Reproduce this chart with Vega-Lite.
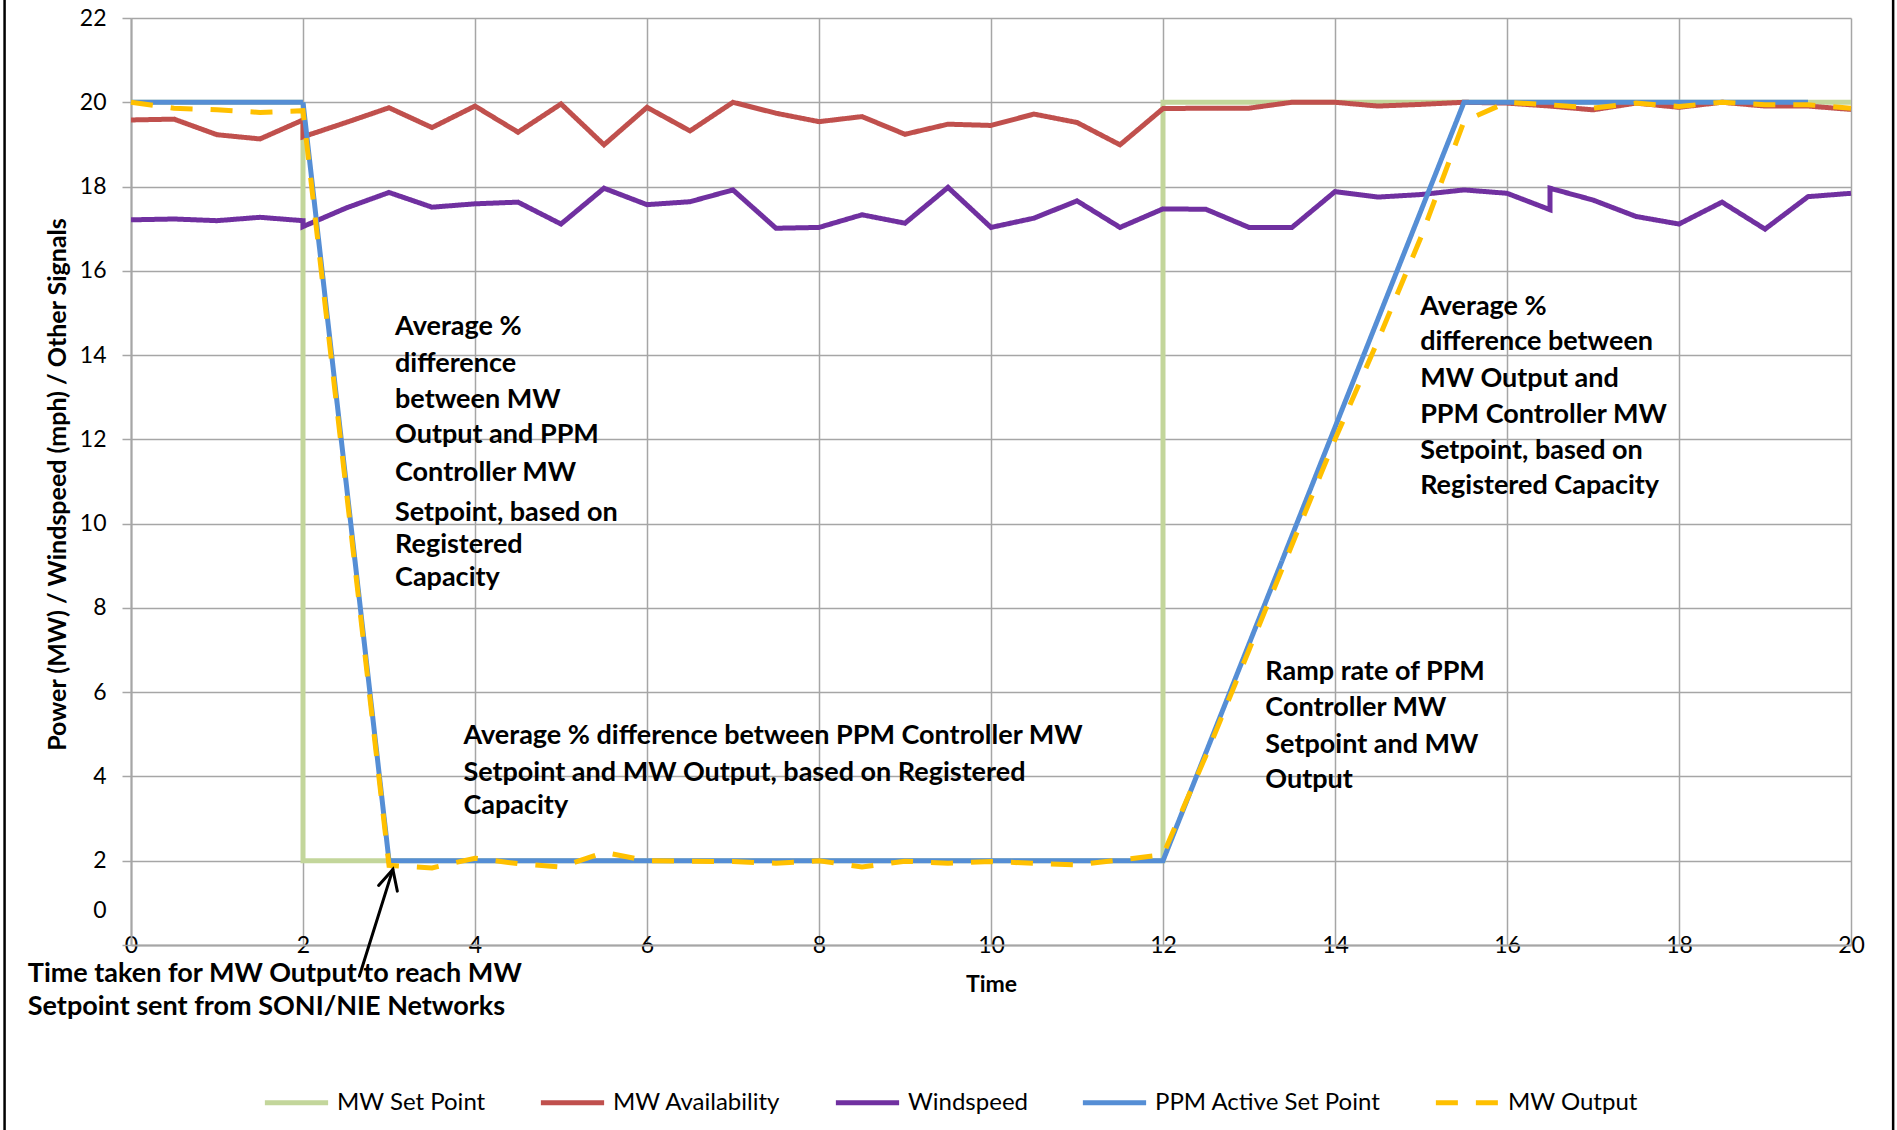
{
  "$schema": "https://vega.github.io/schema/vega-lite/v6.json",
  "autosize": {"type": "none"},
  "width": 1720,
  "height": 927,
  "padding": {"left": 131, "top": 18, "right": 46, "bottom": 185},
  "background": "white",
  "config": {
    "font": "Lato",
    "view": {"stroke": null},
    "axis": {
      "gridColor": "#a6a6a6",
      "gridWidth": 1.5,
      "domainColor": "#a6a6a6",
      "domainWidth": 2,
      "tickColor": "#a6a6a6",
      "tickWidth": 1.5,
      "labelColor": "#000000",
      "titleColor": "#000000",
      "labelFont": "Lato",
      "titleFont": "Lato"
    }
  },
  "datasets": {
    "series": [
      {"s": "MW Set Point", "i": 1, "x": 0, "y": 20},
      {"s": "MW Set Point", "i": 2, "x": 2, "y": 20},
      {"s": "MW Set Point", "i": 3, "x": 2, "y": 2},
      {"s": "MW Set Point", "i": 4, "x": 12, "y": 2},
      {"s": "MW Set Point", "i": 5, "x": 12, "y": 20},
      {"s": "MW Set Point", "i": 6, "x": 20, "y": 20},

      {"s": "MW Availability", "i": 1, "x": 0, "y": 19.58},
      {"s": "MW Availability", "i": 2, "x": 0.5, "y": 19.6},
      {"s": "MW Availability", "i": 3, "x": 1, "y": 19.23},
      {"s": "MW Availability", "i": 4, "x": 1.5, "y": 19.13},
      {"s": "MW Availability", "i": 5, "x": 2, "y": 19.58},
      {"s": "MW Availability", "i": 6, "x": 2, "y": 19.18},
      {"s": "MW Availability", "i": 7, "x": 2.5, "y": 19.52},
      {"s": "MW Availability", "i": 8, "x": 3, "y": 19.87},
      {"s": "MW Availability", "i": 9, "x": 3.5, "y": 19.4},
      {"s": "MW Availability", "i": 10, "x": 4, "y": 19.91},
      {"s": "MW Availability", "i": 11, "x": 4.5, "y": 19.29},
      {"s": "MW Availability", "i": 12, "x": 5, "y": 19.96},
      {"s": "MW Availability", "i": 13, "x": 5.5, "y": 18.99},
      {"s": "MW Availability", "i": 14, "x": 6, "y": 19.88},
      {"s": "MW Availability", "i": 15, "x": 6.5, "y": 19.32},
      {"s": "MW Availability", "i": 16, "x": 7, "y": 20.0},
      {"s": "MW Availability", "i": 17, "x": 7.5, "y": 19.74},
      {"s": "MW Availability", "i": 18, "x": 8, "y": 19.54},
      {"s": "MW Availability", "i": 19, "x": 8.5, "y": 19.66},
      {"s": "MW Availability", "i": 20, "x": 9, "y": 19.24},
      {"s": "MW Availability", "i": 21, "x": 9.5, "y": 19.48},
      {"s": "MW Availability", "i": 22, "x": 10, "y": 19.45},
      {"s": "MW Availability", "i": 23, "x": 10.5, "y": 19.72},
      {"s": "MW Availability", "i": 24, "x": 11, "y": 19.52},
      {"s": "MW Availability", "i": 25, "x": 11.5, "y": 18.99},
      {"s": "MW Availability", "i": 26, "x": 12, "y": 19.85},
      {"s": "MW Availability", "i": 27, "x": 12.5, "y": 19.86},
      {"s": "MW Availability", "i": 28, "x": 13, "y": 19.86},
      {"s": "MW Availability", "i": 29, "x": 13.5, "y": 20.0},
      {"s": "MW Availability", "i": 30, "x": 14, "y": 20.0},
      {"s": "MW Availability", "i": 31, "x": 14.5, "y": 19.91},
      {"s": "MW Availability", "i": 32, "x": 15, "y": 19.95},
      {"s": "MW Availability", "i": 33, "x": 15.5, "y": 20.0},
      {"s": "MW Availability", "i": 34, "x": 16, "y": 19.98},
      {"s": "MW Availability", "i": 35, "x": 16.5, "y": 19.91},
      {"s": "MW Availability", "i": 36, "x": 17, "y": 19.82},
      {"s": "MW Availability", "i": 37, "x": 17.5, "y": 19.98},
      {"s": "MW Availability", "i": 38, "x": 18, "y": 19.88},
      {"s": "MW Availability", "i": 39, "x": 18.5, "y": 20.0},
      {"s": "MW Availability", "i": 40, "x": 19, "y": 19.91},
      {"s": "MW Availability", "i": 41, "x": 19.5, "y": 19.91},
      {"s": "MW Availability", "i": 42, "x": 20, "y": 19.83},

      {"s": "Windspeed", "i": 1, "x": 0, "y": 17.21},
      {"s": "Windspeed", "i": 2, "x": 0.5, "y": 17.23},
      {"s": "Windspeed", "i": 3, "x": 1, "y": 17.19},
      {"s": "Windspeed", "i": 4, "x": 1.5, "y": 17.27},
      {"s": "Windspeed", "i": 5, "x": 2, "y": 17.19},
      {"s": "Windspeed", "i": 6, "x": 2, "y": 17.05},
      {"s": "Windspeed", "i": 7, "x": 2.5, "y": 17.49},
      {"s": "Windspeed", "i": 8, "x": 3, "y": 17.86},
      {"s": "Windspeed", "i": 9, "x": 3.5, "y": 17.51},
      {"s": "Windspeed", "i": 10, "x": 4, "y": 17.59},
      {"s": "Windspeed", "i": 11, "x": 4.5, "y": 17.63},
      {"s": "Windspeed", "i": 12, "x": 5, "y": 17.11},
      {"s": "Windspeed", "i": 13, "x": 5.5, "y": 17.96},
      {"s": "Windspeed", "i": 14, "x": 6, "y": 17.57},
      {"s": "Windspeed", "i": 15, "x": 6.5, "y": 17.64},
      {"s": "Windspeed", "i": 16, "x": 7, "y": 17.92},
      {"s": "Windspeed", "i": 17, "x": 7.5, "y": 17.01},
      {"s": "Windspeed", "i": 18, "x": 8, "y": 17.03},
      {"s": "Windspeed", "i": 19, "x": 8.5, "y": 17.33},
      {"s": "Windspeed", "i": 20, "x": 9, "y": 17.13},
      {"s": "Windspeed", "i": 21, "x": 9.5, "y": 17.98},
      {"s": "Windspeed", "i": 22, "x": 10, "y": 17.03},
      {"s": "Windspeed", "i": 23, "x": 10.5, "y": 17.25},
      {"s": "Windspeed", "i": 24, "x": 11, "y": 17.66},
      {"s": "Windspeed", "i": 25, "x": 11.5, "y": 17.03},
      {"s": "Windspeed", "i": 26, "x": 12, "y": 17.47},
      {"s": "Windspeed", "i": 27, "x": 12.5, "y": 17.46},
      {"s": "Windspeed", "i": 28, "x": 13, "y": 17.03},
      {"s": "Windspeed", "i": 29, "x": 13.5, "y": 17.03},
      {"s": "Windspeed", "i": 30, "x": 14, "y": 17.88},
      {"s": "Windspeed", "i": 31, "x": 14.5, "y": 17.75},
      {"s": "Windspeed", "i": 32, "x": 15, "y": 17.81},
      {"s": "Windspeed", "i": 33, "x": 15.5, "y": 17.92},
      {"s": "Windspeed", "i": 34, "x": 16, "y": 17.84},
      {"s": "Windspeed", "i": 35, "x": 16.5, "y": 17.45},
      {"s": "Windspeed", "i": 36, "x": 16.5, "y": 17.96},
      {"s": "Windspeed", "i": 37, "x": 17, "y": 17.68},
      {"s": "Windspeed", "i": 38, "x": 17.5, "y": 17.29},
      {"s": "Windspeed", "i": 39, "x": 18, "y": 17.11},
      {"s": "Windspeed", "i": 40, "x": 18.5, "y": 17.63},
      {"s": "Windspeed", "i": 41, "x": 19, "y": 16.99},
      {"s": "Windspeed", "i": 42, "x": 19.5, "y": 17.76},
      {"s": "Windspeed", "i": 43, "x": 20, "y": 17.84},

      {"s": "PPM Active Set Point", "i": 1, "x": 0, "y": 20},
      {"s": "PPM Active Set Point", "i": 2, "x": 2, "y": 20},
      {"s": "PPM Active Set Point", "i": 3, "x": 3, "y": 2},
      {"s": "PPM Active Set Point", "i": 4, "x": 12, "y": 2},
      {"s": "PPM Active Set Point", "i": 5, "x": 15.5, "y": 20},
      {"s": "PPM Active Set Point", "i": 6, "x": 19.5, "y": 20},

      {"s": "MW Output", "i": 1, "x": 0, "y": 20.0},
      {"s": "MW Output", "i": 2, "x": 0.5, "y": 19.86},
      {"s": "MW Output", "i": 3, "x": 1, "y": 19.82},
      {"s": "MW Output", "i": 4, "x": 1.5, "y": 19.76},
      {"s": "MW Output", "i": 5, "x": 2, "y": 19.8},
      {"s": "MW Output", "i": 6, "x": 2.5, "y": 10.85},
      {"s": "MW Output", "i": 7, "x": 3, "y": 1.89},
      {"s": "MW Output", "i": 8, "x": 3.5, "y": 1.83},
      {"s": "MW Output", "i": 9, "x": 4, "y": 2.06},
      {"s": "MW Output", "i": 10, "x": 4.5, "y": 1.93},
      {"s": "MW Output", "i": 11, "x": 5, "y": 1.85},
      {"s": "MW Output", "i": 12, "x": 5.5, "y": 2.2},
      {"s": "MW Output", "i": 13, "x": 6, "y": 2.0},
      {"s": "MW Output", "i": 14, "x": 6.5, "y": 1.99},
      {"s": "MW Output", "i": 15, "x": 7, "y": 1.98},
      {"s": "MW Output", "i": 16, "x": 7.5, "y": 1.94},
      {"s": "MW Output", "i": 17, "x": 8, "y": 2.0},
      {"s": "MW Output", "i": 18, "x": 8.5, "y": 1.85},
      {"s": "MW Output", "i": 19, "x": 9, "y": 1.99},
      {"s": "MW Output", "i": 20, "x": 9.5, "y": 1.94},
      {"s": "MW Output", "i": 21, "x": 10, "y": 1.98},
      {"s": "MW Output", "i": 22, "x": 10.5, "y": 1.94},
      {"s": "MW Output", "i": 23, "x": 11, "y": 1.9},
      {"s": "MW Output", "i": 24, "x": 11.5, "y": 2.02},
      {"s": "MW Output", "i": 25, "x": 12, "y": 2.14},
      {"s": "MW Output", "i": 26, "x": 12.5, "y": 4.5},
      {"s": "MW Output", "i": 27, "x": 13, "y": 7.0},
      {"s": "MW Output", "i": 28, "x": 13.5, "y": 9.5},
      {"s": "MW Output", "i": 29, "x": 14, "y": 12.0},
      {"s": "MW Output", "i": 30, "x": 14.5, "y": 14.35},
      {"s": "MW Output", "i": 31, "x": 15, "y": 16.8},
      {"s": "MW Output", "i": 32, "x": 15.5, "y": 19.55},
      {"s": "MW Output", "i": 33, "x": 16, "y": 20.0},
      {"s": "MW Output", "i": 34, "x": 16.5, "y": 19.94},
      {"s": "MW Output", "i": 35, "x": 17, "y": 19.86},
      {"s": "MW Output", "i": 36, "x": 17.5, "y": 19.98},
      {"s": "MW Output", "i": 37, "x": 18, "y": 19.9},
      {"s": "MW Output", "i": 38, "x": 18.5, "y": 20.0},
      {"s": "MW Output", "i": 39, "x": 19, "y": 19.94},
      {"s": "MW Output", "i": 40, "x": 19.5, "y": 19.94},
      {"s": "MW Output", "i": 41, "x": 20, "y": 19.86}
    ],
    "frame": [
      {"x": -1.47, "y": 22.45, "y2": -4.4},
      {"x": 20.49, "y": 22.45, "y2": -4.4}
    ],
    "arrow": [
      {"part": "shaft", "i": 1, "x": 2.655, "y": -0.74},
      {"part": "shaft", "i": 2, "x": 3.045, "y": 1.794},
      {"part": "head", "i": 1, "x": 2.879, "y": 1.414},
      {"part": "head", "i": 2, "x": 3.045, "y": 1.794},
      {"part": "head", "i": 3, "x": 3.097, "y": 1.279}
    ],
    "notes": [
      {"x": 3.07, "y": 14.67, "t": "Average %"},
      {"x": 3.07, "y": 13.8, "t": "difference"},
      {"x": 3.07, "y": 12.93, "t": "between MW"},
      {"x": 3.07, "y": 12.1, "t": "Output and PPM"},
      {"x": 3.07, "y": 11.19, "t": "Controller MW"},
      {"x": 3.07, "y": 10.25, "t": "Setpoint, based on"},
      {"x": 3.07, "y": 9.49, "t": "Registered"},
      {"x": 3.07, "y": 8.7, "t": "Capacity"},
      {"x": 3.865, "y": 4.95, "t": "Average % difference between PPM Controller MW"},
      {"x": 3.865, "y": 4.09, "t": "Setpoint and MW Output, based on Registered"},
      {"x": 3.865, "y": 3.29, "t": "Capacity"},
      {"x": 14.99, "y": 15.13, "t": "Average %"},
      {"x": 14.99, "y": 14.3, "t": "difference between"},
      {"x": 14.99, "y": 13.44, "t": "MW Output and"},
      {"x": 14.99, "y": 12.57, "t": "PPM Controller MW"},
      {"x": 14.99, "y": 11.72, "t": "Setpoint, based on"},
      {"x": 14.99, "y": 10.89, "t": "Registered Capacity"},
      {"x": 13.19, "y": 6.48, "t": "Ramp rate of PPM"},
      {"x": 13.19, "y": 5.62, "t": "Controller MW"},
      {"x": 13.19, "y": 4.75, "t": "Setpoint and MW"},
      {"x": 13.19, "y": 3.92, "t": "Output"},
      {"x": -1.2, "y": -0.7, "t": "Time taken for MW Output to reach MW"},
      {"x": -1.2, "y": -1.46, "t": "Setpoint sent from SONI/NIE Networks"}
    ]
  },
  "encoding": {
    "x": {
      "field": "x", "type": "quantitative",
      "scale": {"domain": [0, 20], "nice": false, "zero": false},
      "axis": {
        "title": "Time",
        "titleFontSize": 23,
        "titleFontWeight": "bold",
        "titleX": 860,
        "titleY": 39,
        "titleBaseline": "middle",
        "values": [0, 2, 4, 6, 8, 10, 12, 14, 16, 18, 20],
        "ticks": false,
        "tickSize": 0,
        "labelPadding": 0,
        "labelBaseline": "middle",
        "labelFontSize": 23,
        "labelFlush": false,
        "labelOverlap": false,
        "grid": true
      }
    },
    "y": {
      "field": "y", "type": "quantitative",
      "scale": {"domain": [0, 22], "nice": false, "zero": false},
      "axis": {
        "title": "Power (MW) / Windspeed (mph) / Other Signals",
        "titleFontSize": 25,
        "titleFontWeight": "bold",
        "titleX": -74,
        "titleY": 466,
        "titleAngle": -90,
        "titleAlign": "center",
        "titleBaseline": "middle",
        "values": [0, 2, 4, 6, 8, 10, 12, 14, 16, 18, 20, 22],
        "tickSize": 9,
        "labelPadding": 16,
        "labelFontSize": 23,
        "labelFlush": false,
        "labelOverlap": false,
        "labelOffset": {"condition": {"test": "datum.value === 0", "value": -35}, "value": 0},
        "grid": true
      }
    }
  },
  "layer": [
    {
      "data": {"name": "series"},
      "mark": {"type": "line", "strokeWidth": 5, "strokeCap": "butt", "strokeJoin": "miter"},
      "encoding": {
        "color": {
          "field": "s", "type": "nominal",
          "scale": {
            "domain": ["MW Set Point", "MW Availability", "Windspeed", "PPM Active Set Point", "MW Output"],
            "range": ["#c3d69b", "#c0504d", "#7030a0", "#558ed5", "#ffc000"]
          },
          "legend": {
            "title": null,
            "orient": "none",
            "direction": "horizontal",
            "legendX": 131,
            "legendY": 1050,
            "symbolType": "stroke",
            "symbolSize": 4000,
            "symbolStrokeWidth": 5,
            "labelFontSize": 24,
            "labelLimit": 0,
            "labelColor": "#000000",
            "labelOffset": 6,
            "columnPadding": 44,
            "padding": 0
          }
        },
        "strokeDash": {
          "field": "s", "type": "nominal",
          "scale": {
            "domain": ["MW Set Point", "MW Availability", "Windspeed", "PPM Active Set Point", "MW Output"],
            "range": [[1, 0], [1, 0], [1, 0], [1, 0], [22, 18]]
          },
          "legend": {
            "title": null,
            "orient": "none",
            "direction": "horizontal",
            "legendX": 131,
            "legendY": 1050,
            "symbolType": "stroke",
            "symbolSize": 4000,
            "symbolStrokeWidth": 5,
            "labelFontSize": 24,
            "labelLimit": 0,
            "labelColor": "#000000",
            "labelOffset": 6,
            "columnPadding": 44,
            "padding": 0
          }
        },
        "order": {"field": "i", "type": "quantitative"}
      }
    },
    {
      "data": {"name": "frame"},
      "mark": {"type": "rule", "color": "#000000", "strokeWidth": 2.5},
      "encoding": {
        "y2": {"field": "y2"}
      }
    },
    {
      "data": {"name": "arrow"},
      "mark": {"type": "line", "color": "#000000", "strokeWidth": 3, "strokeCap": "round", "strokeJoin": "miter"},
      "encoding": {
        "detail": {"field": "part", "type": "nominal"},
        "order": {"field": "i", "type": "quantitative"}
      }
    },
    {
      "data": {"name": "notes"},
      "mark": {"type": "text", "font": "Lato", "fontWeight": "bold", "fontSize": 27, "align": "left", "baseline": "middle", "color": "#000000"},
      "encoding": {
        "text": {"field": "t", "type": "nominal"}
      }
    }
  ]
}
